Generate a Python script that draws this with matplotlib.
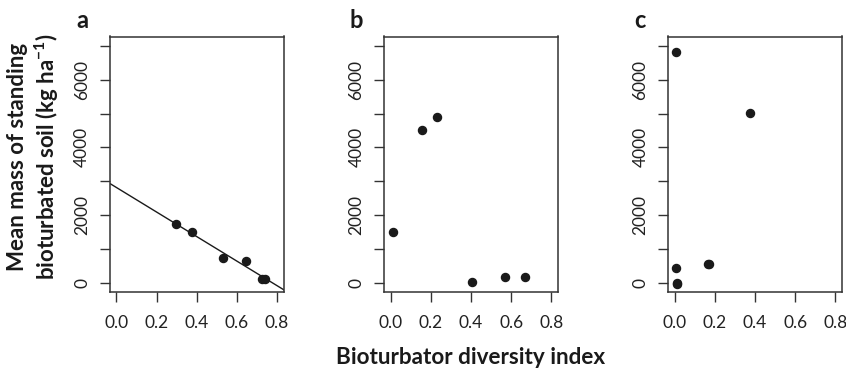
import numpy as np
import matplotlib.pyplot as plt

# Bioturbator diversity index vs mean mass of standing bioturbated soil
a_x = [0.297, 0.376, 0.529, 0.644, 0.725, 0.742]
a_y = [1736, 1490, 740, 640, 118, 118]

b_x = [0.013, 0.155, 0.229, 0.404, 0.571, 0.668]
b_y = [1490, 4511, 4887, 18, 166, 166]

c_x = [0.007, 0.374, 0.169, 0.166, 0.007, 0.010, 0.013]
c_y = [6813, 5024, 542, 560, 432, -30, -20]

panels = [("a", a_x, a_y, True), ("b", b_x, b_y, False), ("c", c_x, c_y, False)]

plt.rcParams['font.family'] = ['Lato', 'DejaVu Sans']
plt.rcParams['mathtext.fontset'] = 'custom'
plt.rcParams['mathtext.rm'] = 'Lato'
plt.rcParams['mathtext.bf'] = 'Lato:bold'

W, H = 846, 373
fig = plt.figure(figsize=(W / 100, H / 100), dpi=100)

lefts = [110, 384.3, 668.3]
width = 173.5
top, bottom = 36.5, 292

ink = '#1a1a1a'
for (label, x, y, fit), left in zip(panels, lefts):
    ax = fig.add_axes([left / W, 1 - bottom / H, width / W, (bottom - top) / H])
    ax.plot(x, y, 'o', color=ink, markersize=5.8, zorder=3)
    if fit:
        slope, intercept = np.polyfit(x, y, 1)
        xx = np.array([-0.1, 0.9])
        ax.plot(xx, intercept + slope * xx, color=ink, linewidth=1.0)
    ax.set_xlim(-0.032, 0.832)
    ax.set_ylim(-280, 7280)
    ax.set_xticks([0.0, 0.2, 0.4, 0.6, 0.8])
    ax.set_xticklabels(['0.0', '0.2', '0.4', '0.6', '0.8'])
    ax.set_yticks(range(0, 8000, 1000))
    ax.set_yticklabels(['0', '', '2000', '', '4000', '', '6000', ''],
                       rotation=90, va='center')
    ax.tick_params(direction='out', length=7.2, width=1.0, color='#333333',
                   labelsize=12.5, labelcolor='#222222')
    ax.tick_params(axis='x', pad=9)
    ax.tick_params(axis='y', pad=7)
    for s in ax.spines.values():
        s.set_linewidth(1.1)
        s.set_color('#333333')
    fig.text((left - 28) / W, 1 - 20 / H, label, fontsize=17, fontweight='bold',
             ha='center', va='center', color=ink)

fig.text(34 / W, 1 - 157 / H,
         'Mean mass of standing\nbioturbated soil (kg ha$^{\\mathbf{-1}}$)',
         rotation=90, ha='center', va='center', fontsize=16, fontweight='bold',
         linespacing=1.2, color=ink)
fig.text(471 / W, 1 - 357 / H, 'Bioturbator diversity index', ha='center',
         va='center', fontsize=16.2, fontweight='bold', color=ink)

fig.savefig('out.png', dpi=100)
